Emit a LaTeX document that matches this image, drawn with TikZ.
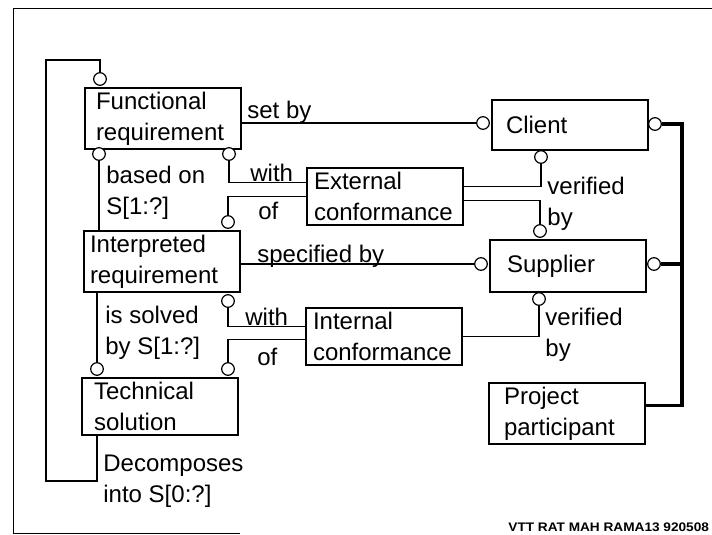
\documentclass[tikz,border=0pt]{standalone}
\usepackage{fontspec}
\setmainfont{Liberation Sans}
\usetikzlibrary{positioning}

\begin{document}
\begin{tikzpicture}[x=0.5pt,y=-0.5pt,
  every node/.style={font=\fontsize{12}{15.5}\selectfont},
  box/.style={draw,line width=1pt,anchor=north west,align=left,
    minimum height=25pt,inner ysep=2pt,inner xsep=#1,text width={78pt-2*#1}},
  box/.default=4pt,
  ring/.style={draw,circle,fill=white,line width=0.6pt,inner sep=0pt,minimum size=6.3pt},
  lbl/.style={anchor=base west,align=left,inner sep=0pt},
  link/.style={line width=0.6pt},
  rail/.style={line width=1.6pt}]
\useasboundingbox (0,0) rectangle (712,535);
% frame
\draw[line width=0.5pt] (240,533) -| (13,9) -- (712,9);

% entity boxes
\node[box=5.5pt] (fr) at (84,87) {Functional\\requirement};
\node[box=3pt] (ir) at (83,230) {Interpreted\\requirement};
\node[box=6pt] (ts) at (81,377) {Technical\\solution};
\node[box=3.5pt] (ec) at (306,167) {External\\conformance};
\node[box=3.5pt] (ic) at (305,307) {Internal\\conformance};
\node[box=7pt] (cl) at (491,99) {Client};
\node[box=8.5pt,minimum height=26pt] (su) at (489,239) {Supplier};
\node[box=7.5pt] (pp) at (488,382) {Project\\participant};

% optional ends
\node[ring] (o1) at (100,79) {};
\node[ring] (o2) at (99,154) {};
\node[ring] (o3) at (229,154) {};
\node[ring] (o4) at (228,222) {};
\node[ring] (o5) at (228,301) {};
\node[ring] (o6) at (97,369) {};
\node[ring] (o7) at (228,369) {};
\node[ring] (o9) at (483,123) {};
\node[ring] (o10) at (655,124) {};
\node[ring] (o11) at (541,157) {};
\node[ring] (o12) at (540,231) {};
\node[ring] (o13) at (481,264) {};
\node[ring] (o14) at (654,264) {};
\node[ring] (o15) at (539,299) {};

\coordinate (lt) at (46,60);
\coordinate (lb) at (46,481);
\coordinate (rl) at (682,124);

% relations
\draw[link] (ts.south -| o6) |- (lb) -- (lt) -| (o1);
\draw[link] (o2) -- (o2 |- ir.north);
\draw[link] (o6) -- (o6 |- ir.south);
\draw[link] (o3) |- ([yshift=7pt]ec.west);
\draw[link] (o4) |- (ec.west);
\draw[link] (o5) |- ([yshift=4.75pt]ic.west);
\draw[link] (o7) |- ([yshift=-1.75pt]ic.west);
\draw[link] (fr.east |- o9) -- (o9);
\draw[link] (ir.east |- o13) -- (o13);
\draw[link] (o11) |- ([yshift=5pt]ec.east);
\draw[link] ([yshift=-2pt]ec.east) -| (o12);
\draw[link] (o15) |- (ic.east);
\draw[rail] (o10) -- (o10 -| rl) |- ([yshift=4.25pt]pp.east);
\draw[rail] (o14) -- (o14 -| rl);

% role names (base is the last line)
\node[lbl] (setby) at (247,119) {set by};
\node[lbl] (specby) at (257,262) {specified by};
\node[lbl] (based) at (106,214) {based on\\S[1:?]};
\node[lbl] (with1) at (250,182) {with};
\node[lbl] (of1) at (258,219) {of};
\node[lbl] (ver1) at (547,225) {verified\\by};
\node[lbl] (solved) at (105,354) {is solved\\by S[1:?]};
\node[lbl] (with2) at (245,325) {with};
\node[lbl] (of2) at (257,365) {of};
\node[lbl] (ver2) at (545,356) {verified\\by};
\node[lbl] (decomp) at (103,502) {Decomposes\\into S[0:?]};

\node[lbl,font=\fontsize{6.2}{7}\bfseries] (tag) at (508,531)
  {\scalebox{1.1}[1]{VTT RAT MAH RAMA13 920508}};
\end{tikzpicture}
\end{document}
